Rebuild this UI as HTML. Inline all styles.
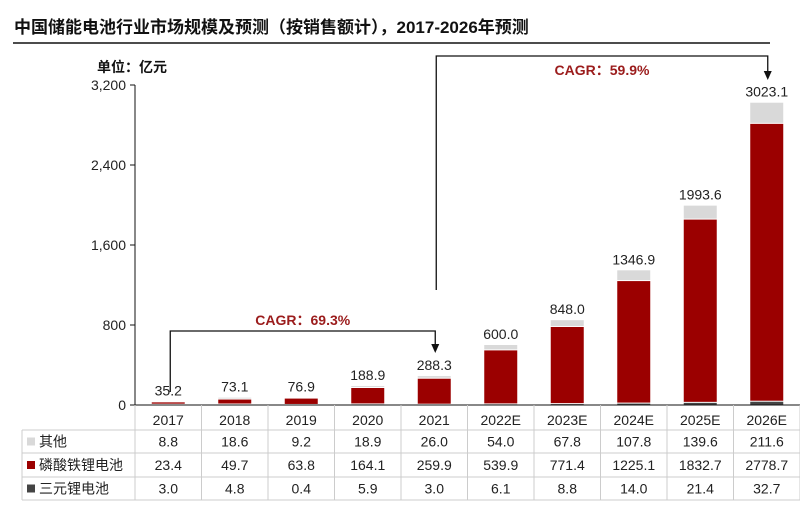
<!DOCTYPE html>
<html><head><meta charset="utf-8"><style>
body{margin:0;background:#fff;width:800px;height:512px;overflow:hidden;font-family:"Liberation Sans","Noto Sans CJK SC",sans-serif}
svg text{font-family:"Liberation Sans","Noto Sans CJK SC",sans-serif}
</style></head><body>
<svg id="c" width="800" height="512">
<text x="14" y="33" font-size="17" font-weight="bold" fill="#111">中国储能电池行业市场规模及预测（按销售额计），2017-2026年预测</text>
<line x1="13" y1="43" x2="770" y2="43" stroke="#111" stroke-width="1.5"/>
<text x="97" y="72" font-size="14" font-weight="bold" fill="#111">单位：亿元</text>
</svg>
<script>
const categories=["2017","2018","2019","2020","2021","2022E","2023E","2024E","2025E","2026E"];
const other=[8.8,18.6,9.2,18.9,26.0,54.0,67.8,107.8,139.6,211.6];
const lfp=[23.4,49.7,63.8,164.1,259.9,539.9,771.4,1225.1,1832.7,2778.7];
const ncm=[3.0,4.8,0.4,5.9,3.0,6.1,8.8,14.0,21.4,32.7];
const totals=["35.2","73.1","76.9","188.9","288.3","600.0","848.0","1346.9","1993.6","3023.1"];
const yTicks=[0,800,1600,2400,3200];
const yTickLabels=["0","800","1,600","2,400","3,200"];
const svg=document.getElementById('c');const NS='http://www.w3.org/2000/svg';
function mk(t,a,p){const e=document.createElementNS(NS,t);for(const k in a)e.setAttribute(k,a[k]);(p||svg).appendChild(e);return e;}
const x0=135,colW=66.5,y0=405,yMax=3200,yTop=85;
const xC=i=>x0+colW*(i+0.5);
const yS=v=>y0-(v/yMax)*(y0-yTop);
// axis
let ax=mk('line',{x1:x0,y1:yTop,x2:x0,y2:y0,stroke:'#111'});

yTicks.forEach((v,i)=>{
 let tl=mk('line',{x1:x0-5,y1:yS(v),x2:x0,y2:yS(v),stroke:'#111'});
 
 let t=mk('text',{x:x0-9,y:yS(v)+5,'font-size':14,'text-anchor':'end',fill:'#222'});t.textContent=yTickLabels[i];
 
});
const bw=33;
categories.forEach((c,i)=>{
 const cx=xC(i);
 const segs=[[ncm[i],'#444'],[lfp[i],'#9b0000'],[other[i],'#d9d9d9']];
 let base=0;
 segs.forEach((s,j)=>{
  const yt=yS(base+s[0]),yb=yS(base);
  let r=mk('rect',{x:cx-bw/2,y:yt,width:bw,height:Math.max(0,yb-yt-(j>0?1:0)),fill:s[1]});
  
  base+=s[0];
 });
 let t=mk('text',{x:cx,y:yS(base)-6,'font-size':14,'text-anchor':'middle',fill:'#222'});t.textContent=totals[i];
 
 let xl=mk('text',{x:cx,y:425,'font-size':14,'text-anchor':'middle',fill:'#222'});xl.textContent=c;
 
});
let xa=mk('line',{x1:x0,y1:y0,x2:800,y2:y0,stroke:'#111'});

// table
const rowsY=[430,453,477,500];
const names=['其他','磷酸铁锂电池','三元锂电池'],cols=['#d9d9d9','#9b0000','#444'],rows=[other,lfp,ncm];
rowsY.forEach(y=>{let l=mk('line',{x1:22,y1:y,x2:800,y2:y,stroke:'#ccc'});});
let lb=mk('line',{x1:22,y1:430,x2:22,y2:500,stroke:'#ccc'});
for(let i=0;i<=10;i++){let l=mk('line',{x1:x0+colW*i,y1:405,x2:x0+colW*i,y2:500,stroke:'#ccc'});}
rows.forEach((r,k)=>{
 const cy=(rowsY[k]+rowsY[k+1])/2;
 let sq=mk('rect',{x:27,y:cy-4,width:8,height:8,fill:cols[k]});
 let n=mk('text',{x:39,y:cy+5,'font-size':14,fill:'#222'});n.textContent=names[k];
 r.forEach((v,i)=>{let t=mk('text',{x:xC(i),y:cy+5,'font-size':14,'text-anchor':'middle',fill:'#222'});t.textContent=v.toFixed(1);
  });
});
// CAGR brackets
function bracket(i1,i2,yStart,yTopB,yEnd,label,ly,name){
 const g=mk('g',{});
 const a=xC(i1)+2,b=xC(i2)+1;
 mk('polyline',{points:`${a},${yStart} ${a},${yTopB} ${b},${yTopB} ${b},${yEnd-8}`,fill:'none',stroke:'#111','stroke-width':1.3},g);
 mk('polygon',{points:`${b-4},${yEnd-9} ${b+4},${yEnd-9} ${b},${yEnd}`,fill:'#111'},g);
 const t=mk('text',{x:(a+b)/2,y:ly,'font-size':14,'font-weight':'bold','text-anchor':'middle',fill:'#9b1c1c'},g);t.textContent=label;
}
bracket(0,4,392,331,353,'CAGR：69.3%',325,'cagr-2017-2021');
bracket(4,9,290,56,80,'CAGR：59.9%',75,'cagr-2021-2026');
</script>
</body></html>
